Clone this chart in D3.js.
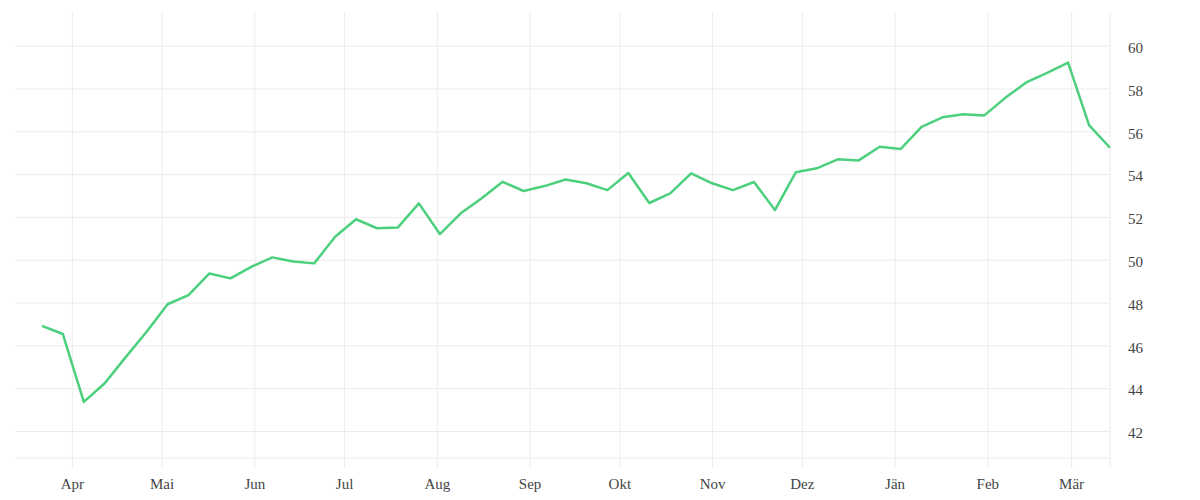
<!DOCTYPE html>
<html>
<head>
<meta charset="utf-8">
<script src="https://cdn.jsdelivr.net/npm/d3@7"></script>
<style>
  html, body { margin: 0; padding: 0; background: #fff; }
  svg { display: block; }
  .tick text { font-family: "Liberation Serif", serif; font-size: 15px; fill: #444; }
</style>
</head>
<body>
<svg id="chart" width="1200" height="500"></svg>
<script>
// weekly observations
var dates = [
  '2022-03-22', '2022-03-29', '2022-04-05', '2022-04-12', '2022-04-19', '2022-04-26',
  '2022-05-03', '2022-05-10', '2022-05-17', '2022-05-24', '2022-05-31',
  '2022-06-07', '2022-06-14', '2022-06-21', '2022-06-28',
  '2022-07-05', '2022-07-12', '2022-07-19', '2022-07-26',
  '2022-08-02', '2022-08-09', '2022-08-16', '2022-08-23', '2022-08-30',
  '2022-09-06', '2022-09-13', '2022-09-20', '2022-09-27',
  '2022-10-04', '2022-10-11', '2022-10-18', '2022-10-25',
  '2022-11-01', '2022-11-08', '2022-11-15', '2022-11-22', '2022-11-29',
  '2022-12-06', '2022-12-13', '2022-12-20', '2022-12-27',
  '2023-01-03', '2023-01-10', '2023-01-17', '2023-01-24', '2023-01-31',
  '2023-02-07', '2023-02-14', '2023-02-21', '2023-02-28',
  '2023-03-07', '2023-03-14'
];
var values = [
  46.91, 46.53, 43.36, 44.23, 45.45, 46.64,
  47.92, 48.35, 49.36, 49.13, 49.67,
  50.11, 49.92, 49.83, 51.07,
  51.89, 51.47, 51.51, 52.63,
  51.20, 52.17, 52.87, 53.64, 53.21,
  53.44, 53.75, 53.57, 53.25,
  54.05, 52.65, 53.10, 54.03,
  53.57, 53.25, 53.63, 52.32, 54.09,
  54.27, 54.69, 54.64, 55.28,
  55.17, 56.20, 56.65, 56.79, 56.74,
  57.56, 58.28, 58.73, 59.21,
  56.29, 55.23
];
var yTicks = [42, 44, 46, 48, 50, 52, 54, 56, 58, 60];
var monthNames = ['Jän', 'Feb', 'Mär', 'Apr', 'Mai', 'Jun', 'Jul', 'Aug', 'Sep', 'Okt', 'Nov', 'Dez'];

(function() {
    var gridColor = '#ececec';
    var lineColor = '#4cd07d';

    var svg = d3.select('#chart');
    var plotLeft = 15, plotRight = 1110, plotTop = 12, plotBottom = 458, tickBottom = 468;

    var parse = d3.timeParse('%Y-%m-%d');
    var data = dates.map(function(d, i) { return {date: parse(d), value: values[i]}; });

    var x = d3.scaleTime()
        .domain([new Date(2022, 2, 13), new Date(2023, 2, 14)])
        .range([plotLeft, plotRight]);

    var y = d3.scaleLinear()
        .domain([40.74, 61.57])
        .range([plotBottom, plotTop]);

    var fmtMonth = function(d) { return monthNames[d.getMonth()]; };

    // vertical grid + month labels
    var xAxis = svg.append('g')
        .attr('transform', 'translate(0,' + tickBottom + ')')
        .call(d3.axisBottom(x)
            .tickValues(d3.timeMonth.range(new Date(2022, 3, 1), new Date(2023, 2, 14)))
            .tickFormat(fmtMonth)
            .tickSize(-(tickBottom - plotTop))
            .tickPadding(10));
    xAxis.select('.domain').remove();
    xAxis.selectAll('.tick line').attr('stroke', gridColor);

    // horizontal grid + value labels on the right
    var yAxis = svg.append('g')
        .attr('transform', 'translate(' + plotRight + ',0)')
        .call(d3.axisRight(y)
            .tickValues(yTicks)
            .tickSize(-(plotRight - plotLeft))
            .tickPadding(18));
    yAxis.select('.domain').remove();
    yAxis.selectAll('.tick line').attr('stroke', gridColor);
    yAxis.selectAll('.tick text').attr('dy', '0.45em');

    // frame lines: bottom and right
    svg.append('line')
        .attr('x1', plotLeft).attr('x2', plotRight)
        .attr('y1', plotBottom).attr('y2', plotBottom)
        .attr('stroke', gridColor);
    svg.append('line')
        .attr('x1', plotRight).attr('x2', plotRight)
        .attr('y1', plotTop).attr('y2', tickBottom)
        .attr('stroke', gridColor);

    var line = d3.line()
        .x(function(d) { return x(d.date); })
        .y(function(d) { return y(d.value); });

    svg.append('path')
        .datum(data)
        .attr('fill', 'none')
        .attr('stroke', lineColor)
        .attr('stroke-width', 2.5)
        .attr('stroke-linejoin', 'round')
        .attr('d', line);
})();
</script>
</body>
</html>
